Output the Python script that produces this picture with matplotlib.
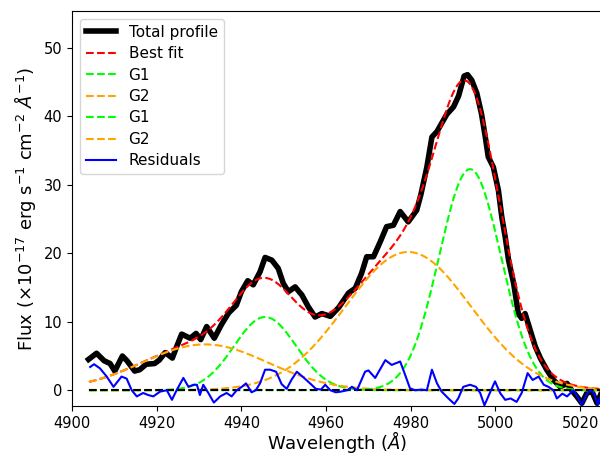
import numpy as np
import matplotlib
matplotlib.use("Agg")
import matplotlib.pyplot as plt

prof_wave = [4903.9, 4905.8, 4907.6, 4909.0, 4910.1, 4911.9, 4913.0, 4914.8, 4916.0, 4917.5,
             4919.5, 4920.6, 4922.0, 4923.7, 4924.8, 4925.9, 4927.9, 4929.3, 4930.4, 4931.8,
             4933.6, 4935.3, 4937.0, 4938.8, 4940.0, 4941.5, 4942.8, 4944.4, 4945.6, 4947.2,
             4948.7, 4949.9, 4951.1, 4952.7, 4954.3, 4955.8, 4957.4, 4959.0, 4961.0, 4963.0,
             4965.3, 4966.9, 4968.4, 4969.6, 4971.2, 4972.8, 4974.3, 4975.9, 4977.5, 4979.4,
             4981.4, 4982.4, 4983.8, 4985.0, 4986.2, 4987.3, 4988.5, 4990.1, 4991.3, 4992.6,
             4993.4, 4994.4, 4995.6, 4996.7, 4997.6, 4998.3, 4999.5, 5000.7, 5001.5, 5002.3,
             5003.1, 5004.3, 5005.4, 5006.2, 5007.0, 5008.2, 5009.4, 5010.6, 5012.1, 5013.7,
             5015.3, 5016.9, 5018.0, 5019.2, 5020.4, 5021.6, 5022.8, 5024.0, 5025.0, 5026.0]
prof_flux = [4.5, 5.4, 4.3, 3.9, 2.8, 5.0, 4.3, 2.8, 3.0, 3.8,
             3.9, 4.4, 5.5, 4.7, 6.5, 8.2, 7.6, 8.3, 7.4, 9.3,
             7.6, 9.6, 11.3, 12.4, 14.4, 16.0, 15.4, 17.3, 19.4, 19.0,
             17.8, 15.6, 14.4, 15.1, 13.9, 12.2, 10.7, 11.2, 10.8, 12.1,
             14.2, 14.9, 17.1, 19.5, 19.5, 21.7, 23.9, 24.1, 26.1, 24.6,
             26.3, 28.6, 32.6, 37.0, 37.8, 39.0, 40.3, 41.4, 43.0, 45.9,
             46.1, 45.3, 43.4, 40.4, 37.0, 34.1, 32.6, 29.2, 25.3, 22.4,
             19.0, 15.6, 11.2, 10.5, 11.2, 8.8, 6.4, 4.7, 3.0, 1.5,
             0.5, 1.0, 0.0, -0.9, -1.9, -0.4, -0.2, -1.9, -0.4, 0.5]

# residuals
res_wave = [4904.3, 4905.2, 4906.6, 4908.2, 4909.8, 4911.7, 4912.9, 4914.1, 4915.3, 4916.8,
            4918.0, 4919.2, 4920.8, 4922.4, 4923.6, 4924.7, 4926.3, 4927.5, 4928.7, 4929.5,
            4930.2, 4931.0, 4932.2, 4933.5, 4935.0, 4936.5, 4937.7, 4938.9, 4940.1, 4941.1,
            4942.4, 4943.4, 4944.4, 4945.6, 4946.8, 4948.2, 4949.5, 4950.7, 4951.8, 4953.1,
            4954.8, 4956.4, 4957.6, 4958.8, 4959.8, 4961.0, 4962.3, 4963.5, 4965.0, 4966.1,
            4967.3, 4969.2, 4970.0, 4971.6, 4974.0, 4975.5, 4977.5, 4978.7, 4979.8, 4981.0,
            4982.5, 4983.8, 4985.0, 4986.2, 4987.3, 4988.9, 4990.3, 4991.2, 4992.4, 4994.0,
            4995.4, 4996.4, 4997.4, 4998.6, 4999.9, 5001.1, 5002.3, 5003.6, 5005.0, 5006.2,
            5007.6, 5008.8, 5010.2, 5011.4, 5012.5, 5013.7, 5014.5, 5015.8, 5016.9, 5018.4,
            5019.4, 5020.4, 5021.7, 5022.5, 5023.3, 5024.2, 5025.0, 5026.0]
res_flux = [3.4, 3.8, 3.2, 2.0, 0.5, 2.0, 1.7, 0.0, -0.9, -0.4,
            -0.7, -0.9, -0.2, 0.0, -1.4, 0.0, 1.8, 0.5, 0.8, 0.8,
            -0.7, 0.8, -0.4, -1.8, -0.9, -0.4, -0.9, 0.0, 0.5, 1.0,
            -0.3, 0.0, 1.0, 3.0, 3.0, 2.7, 0.9, 0.2, 1.5, 2.7,
            1.8, 0.9, 0.2, 0.1, 0.8, 0.0, -0.3, -0.2, 0.0, 0.5,
            0.0, 2.7, 2.9, 1.8, 4.4, 3.7, 4.2, 2.2, 0.3, 0.0,
            0.1, 0.0, 3.0, 1.0, -0.2, -1.2, -2.0, -1.2, 0.5, 0.8,
            0.5, -0.4, -2.2, -0.5, 1.3, -0.4, -1.4, -1.2, -1.7, -0.4,
            2.5, 1.5, 2.0, 0.8, 0.5, 0.0, -1.2, -0.5, -0.9, 0.0,
            -1.0, -2.1, -0.4, 0.0, -0.5, -2.1, -0.6, 0.3]

# gaussian components: amplitude, centre, sigma
g1_amp = [10.7, 32.3]
g1_cen = [4945.6, 4994.0]
g1_sig = [7.3, 7.3]
g2_amp = [6.7, 20.2]
g2_cen = [4931.4, 4979.4]
g2_sig = [14.8, 14.8]


def gauss(x, a, mu, s):
    return a * np.exp(-(x - mu) ** 2 / (2 * s ** 2))


wave = np.linspace(4904, 5030, 800)
comps = []
for k in range(2):
    comps.append(('G1', 'lime', gauss(wave, g1_amp[k], g1_cen[k], g1_sig[k])))
    comps.append(('G2', 'orange', gauss(wave, g2_amp[k], g2_cen[k], g2_sig[k])))
best_fit = sum(c[2] for c in comps)

fig = plt.figure(figsize=(6.0, 4.59), dpi=100)
ax = fig.add_axes([0.12, 0.1155, 0.885, 0.8605])

ax.plot(prof_wave, prof_flux, color='k', lw=4, label='Total profile')
ax.plot(wave, best_fit, 'r--', lw=1.5, label='Best fit')
for name, col, y in comps:
    ax.plot(wave, y, '--', color=col, lw=1.5, label=name)
ax.plot(wave, np.zeros_like(wave), 'k--', lw=1.5)
ax.plot(res_wave, res_flux, color='b', lw=1.5, label='Residuals')

ax.set_xlim(4900, 5025.4)
ax.set_ylim(-2.3, 55.4)
ax.set_xticks(np.arange(4900, 5021, 20))
ax.set_yticks(np.arange(0, 51, 10))
ax.set_xlabel(r'Wavelength ($\AA$)', fontsize=13, labelpad=-1)
ax.set_ylabel(r'Flux ($\times10^{-17}$ erg s$^{-1}$ cm$^{-2}$ $\AA^{-1}$)', fontsize=13)
ax.tick_params(labelsize=10.5)
ax.legend(loc='upper left', fontsize=11, labelspacing=0.42)

fig.savefig('out.png', dpi=100)
